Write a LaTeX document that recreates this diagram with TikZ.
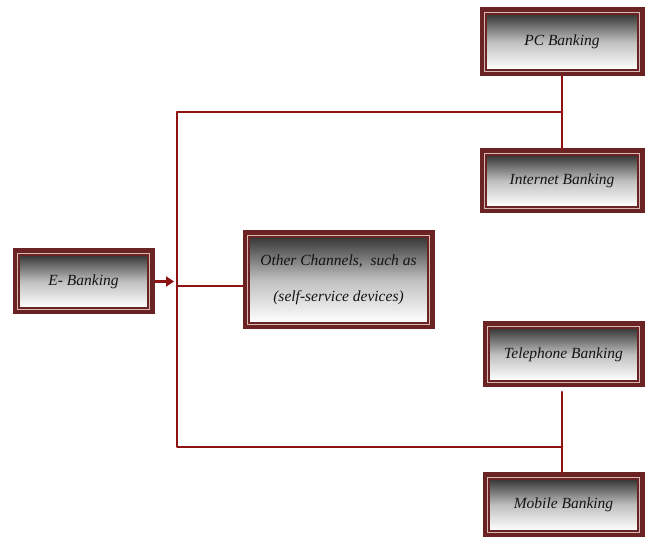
\documentclass[tikz,border=0pt]{standalone}
\usepackage{fontspec}
\setmainfont{Liberation Serif}
\usetikzlibrary{arrows.meta}
\definecolor{frame}{HTML}{6B2222}
\definecolor{wire}{HTML}{8E1414}
\definecolor{inner}{HTML}{D9B8B8}
\tikzset{
  box/.style={rectangle, draw=frame, line width=1pt, fill=frame, inner sep=0pt,
    text=black!92, font=\fontsize{15.5}{19}\selectfont\itshape, align=center,
    path picture={
      \draw[inner, line width=0.9pt]
        ([shift={(4.5pt,-4.5pt)}]path picture bounding box.north west) rectangle
        ([shift={(-4.5pt,4.5pt)}]path picture bounding box.south east);
      \shade[top color=black!78, bottom color=white, middle color=black!25]
        ([shift={(6.5pt,-6.5pt)}]path picture bounding box.north west) rectangle
        ([shift={(-6.5pt,6.5pt)}]path picture bounding box.south east);
      \draw[frame, line width=0.6pt]
        ([shift={(6.5pt,-6.5pt)}]path picture bounding box.north west) rectangle
        ([shift={(-6.5pt,6.5pt)}]path picture bounding box.south east);
      \draw[white, line width=0.8pt]
        ([shift={(8pt,8pt)}]path picture bounding box.south west) --
        ([shift={(-8pt,8pt)}]path picture bounding box.south east);
    }},
  wireline/.style={draw=wire, line width=2.7pt, line cap=round, line join=round},
}
\begin{document}
\begin{tikzpicture}[x=1pt,y=-1pt]
\useasboundingbox[fill=white] (0,0) rectangle (646,537);
\node[box, minimum width=164pt, minimum height=68pt] (pc) at (562,42) {PC Banking};
\node[box, minimum width=164pt, minimum height=64pt] (int) at (562,181) {Internet Banking};
\node[box, minimum width=141pt, minimum height=65pt] (eb) at (83.5,281.5) {E- Banking};
\node[box, minimum width=191pt, minimum height=98pt] (oth) at (338.5,280)
  {Other Channels,\ \ such as\\[17pt](self-service devices)};
\node[box, minimum width=161pt, minimum height=65pt] (tel) at (563.5,354.5) {Telephone Banking};
\node[box, minimum width=161pt, minimum height=64pt] (mob) at (563.5,505) {Mobile Banking};

\coordinate (tl) at (177,112);
\coordinate (tr) at (562,112);
\coordinate (ml) at (177,286);
\coordinate (bl) at (177,447);
\coordinate (br) at (562,447);
\coordinate (tb) at (562,392);

\draw[wireline] (pc.south) -- (int.north);
\draw[wireline] (tr) -- (tl) -- (bl) -- (br);
\draw[wireline] (tb) -- (br) -- (mob.north -| br);
\draw[wireline] (ml) -- (ml -| oth.west);
\draw[wireline, line cap=butt, -{Triangle[length=8pt,width=10pt]}] (eb.east) -- ([xshift=-3pt]eb.east -| tl);
\end{tikzpicture}
\end{document}
